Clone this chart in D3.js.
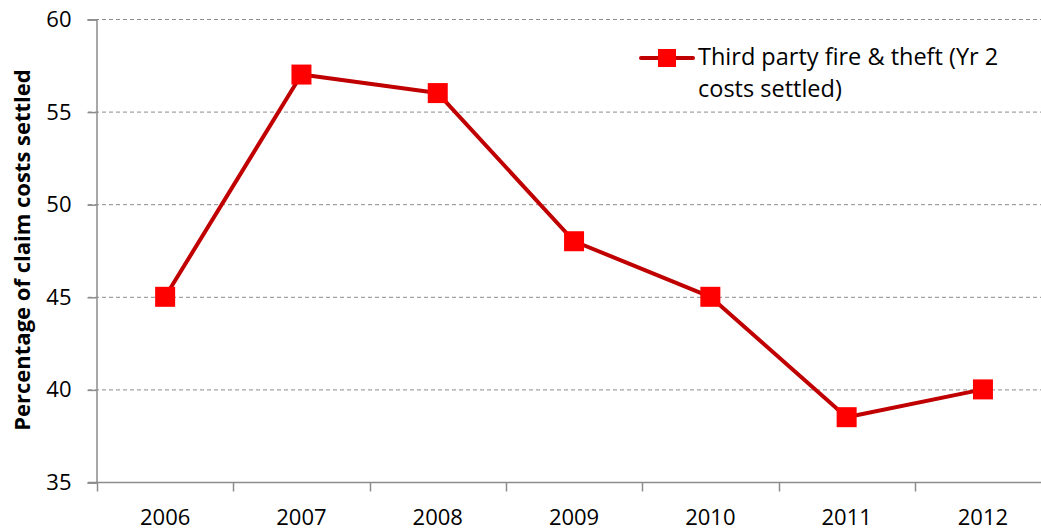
<!DOCTYPE html>
<html>
<head>
<meta charset="utf-8">
<script src="https://cdn.jsdelivr.net/npm/d3@7"></script>
<style>
  body { margin: 0; background: #fff; }
  text { font-family: "Open Sans", sans-serif; }
</style>
</head>
<body>
<div id="chart"></div>
<script>
// chart data
var years = ["2006", "2007", "2008", "2009", "2010", "2011", "2012"];
var settled = [45, 57, 56, 48, 45, 38.5, 40];
var yTicks = [35, 40, 45, 50, 55, 60];
var seriesName = ["Third party fire & theft (Yr 2", "costs settled)"];

var W = 1041, H = 530;
var margin = {top: 19, left: 97, bottom: 48};

var svg = d3.select("#chart").append("svg")
    .attr("width", W)
    .attr("height", H);

var x = d3.scaleBand()
    .domain(years)
    .range([margin.left, margin.left + 7 * 136.3]);

var y = d3.scaleLinear()
    .domain([35, 60])
    .range([H - margin.bottom, margin.top]);

// gridlines
svg.append("g")
    .selectAll("line")
    .data(yTicks.filter(function(d) { return d > 35; }))
    .enter().append("line")
    .attr("x1", margin.left - 9)
    .attr("x2", W)
    .attr("y1", function(d) { return y(d) + 0.5; })
    .attr("y2", function(d) { return y(d) + 0.5; })
    .attr("stroke", "#8c8c8c")
    .attr("stroke-width", 1)
    .attr("stroke-dasharray", "4,3");

// y axis
var yAxis = svg.append("g")
    .attr("transform", "translate(" + (margin.left - 0.5) + ",0.5)")
    .call(d3.axisLeft(y).tickValues(yTicks).tickSize(9).tickPadding(16));
yAxis.select(".domain").attr("stroke", "#8c8c8c").attr("stroke-width", 1.5);
yAxis.selectAll(".tick line").attr("stroke", "#8c8c8c").attr("stroke-width", 1.5);
yAxis.selectAll(".tick text")
    .attr("font-size", 22)
    .attr("fill", "#000")
    .style("font-family", "'Open Sans', sans-serif");

// x axis with ticks on band boundaries
var xAxisG = svg.append("g")
    .attr("transform", "translate(0," + (y(35) + 0.5) + ")");
xAxisG.append("line")
    .attr("x1", margin.left - 9).attr("x2", W)
    .attr("stroke", "#8c8c8c").attr("stroke-width", 1.5);
xAxisG.selectAll(".bt")
    .data(years)
    .enter().append("line")
    .attr("x1", function(d) { return Math.round(x(d)) + 0.5; })
    .attr("x2", function(d) { return Math.round(x(d)) + 0.5; })
    .attr("y1", 0).attr("y2", 9)
    .attr("stroke", "#8c8c8c").attr("stroke-width", 1.5);
xAxisG.selectAll(".lbl")
    .data(years)
    .enter().append("text")
    .attr("x", function(d) { return x(d) + x.bandwidth() / 2; })
    .attr("y", 42)
    .attr("text-anchor", "middle")
    .attr("font-size", 22)
    .attr("fill", "#000")
    .text(function(d) { return d; });

// y axis title
svg.append("text")
    .attr("transform", "translate(30,250) rotate(-90)")
    .attr("text-anchor", "middle")
    .attr("font-size", 22)
    .attr("font-weight", "bold")
    .attr("fill", "#000")
    .text("Percentage of claim costs settled");

// series line
var pts = years.map(function(d, i) { return {year: d, v: settled[i]}; });
var line = d3.line()
    .x(function(d) { return x(d.year) + x.bandwidth() / 2; })
    .y(function(d) { return y(d.v); });

svg.append("path")
    .datum(pts)
    .attr("d", line)
    .attr("fill", "none")
    .attr("stroke", "#c00000")
    .attr("stroke-width", 4)
    .attr("stroke-linejoin", "round");

svg.selectAll(".mk")
    .data(pts)
    .enter().append("rect")
    .attr("x", function(d) { return x(d.year) + x.bandwidth() / 2 - 10; })
    .attr("y", function(d) { return y(d.v) - 10; })
    .attr("width", 20)
    .attr("height", 20)
    .attr("fill", "#ff0000");

// legend
var lg = svg.append("g").attr("transform", "translate(640,58)");
lg.append("line")
    .attr("x1", 1).attr("x2", 53)
    .attr("stroke", "#c00000").attr("stroke-width", 4)
    .attr("stroke-linecap", "round");
lg.append("rect")
    .attr("x", 18).attr("y", -9)
    .attr("width", 18).attr("height", 18)
    .attr("fill", "#ff0000");
lg.selectAll(".lt")
    .data(seriesName)
    .enter().append("text")
    .attr("x", 58)
    .attr("y", function(d, i) { return 7 + i * 32; })
    .attr("font-size", 23.5)
    .attr("fill", "#000")
    .text(function(d) { return d; });
</script>
</body>
</html>
